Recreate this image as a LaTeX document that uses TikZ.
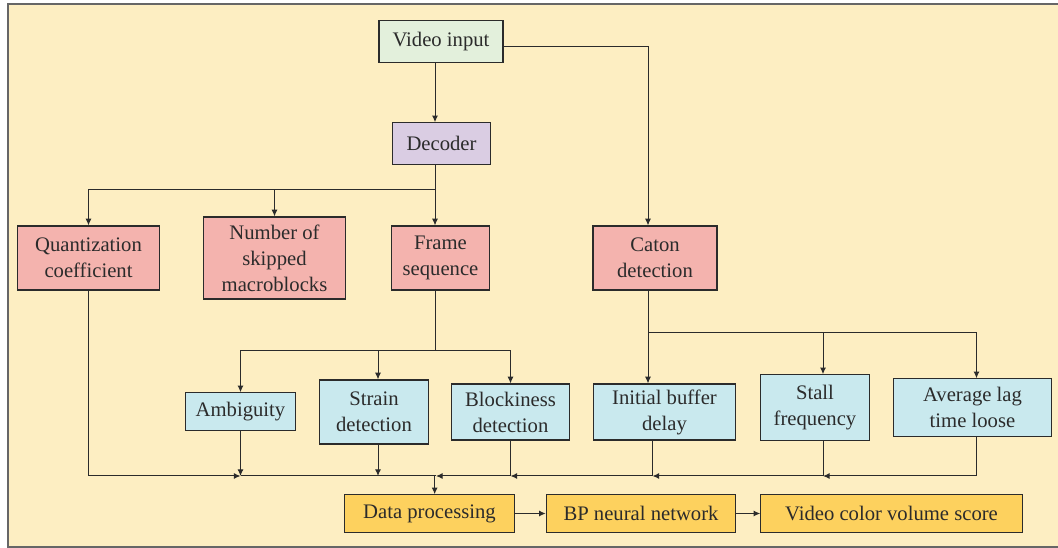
\documentclass[tikz,border=0pt]{standalone}
\usepackage{fontspec}
\setmainfont{Liberation Serif}
\usetikzlibrary{arrows.meta}

\definecolor{bgcream}{HTML}{FDEEC2}
\definecolor{ingreen}{HTML}{E3F0DC}
\definecolor{decpurple}{HTML}{DACDE3}
\definecolor{featpink}{HTML}{F4B3AE}
\definecolor{metblue}{HTML}{C9E9EE}
\definecolor{outorange}{HTML}{FDD15E}
\definecolor{edge}{HTML}{2B2B2B}

\tikzset{
  box/.style={draw=edge, line width=0.9pt, rectangle, inner sep=0pt, align=center,
    font=\fontsize{15.5}{19.5}\selectfont, text=edge},
  arr/.style={draw=edge, line width=0.75pt, -{Latex[length=5pt,width=4.5pt]}},
  ln/.style={draw=edge, line width=0.75pt},
}

\begin{document}
\begin{tikzpicture}[x=0.75pt, y=-0.75pt]
  \useasboundingbox (0,0) rectangle (1058,548);
  \fill[bgcream] (8,4) rectangle (1064,547);
  \draw[black!60, line width=1pt] (1064,4) -- (8,4) -- (8,547) -- (1064,547);

  % nodes, pixel positions
  \node[box, fill=ingreen, minimum width=93pt, minimum height=31pt] (vin) at (441,41.5) {Video input};
  \node[box, fill=decpurple, minimum width=74pt, minimum height=31pt] (dec) at (441.5,143.5) {Decoder};

  \node[box, fill=featpink, minimum width=107pt, minimum height=48pt] (quant) at (88.5,258) {Quantization\\coefficient};
  \node[box, fill=featpink, minimum width=107pt, minimum height=61.5pt] (skip) at (274.5,258) {Number of\\skipped\\macroblocks};
  \node[box, fill=featpink, minimum width=74pt, minimum height=48pt] (frame) at (440.5,258) {Frame\\sequence};
  \node[box, fill=featpink, minimum width=93pt, minimum height=48pt] (caton) at (655,258) {Caton\\detection};

  \node[box, fill=metblue, minimum width=82pt, minimum height=28pt] (amb) at (240.5,411.5) {Ambiguity};
  \node[box, fill=metblue, minimum width=82pt, minimum height=48pt] (strain) at (374,412) {Strain\\detection};
  \node[box, fill=metblue, minimum width=88pt, minimum height=42pt] (block) at (510.5,412) {Blockiness\\detection};
  \node[box, fill=metblue, minimum width=107pt, minimum height=42pt] (init) at (664.5,412) {Initial buffer\\delay};
  \node[box, fill=metblue, minimum width=82pt, minimum height=49pt] (stall) at (815,407.5) {Stall\\frequency};
  \node[box, fill=metblue, minimum width=118pt, minimum height=43pt] (avg) at (972.5,407.5) {Average lag\\time loose};

  \node[box, fill=outorange, minimum width=127pt, minimum height=28pt] (data) at (429.5,513.5) {Data processing};
  \node[box, fill=outorange, minimum width=142pt, minimum height=28pt] (bp) at (641,513.5) {BP neural network};
  \node[box, fill=outorange, minimum width=196pt, minimum height=28pt] (score) at (891.5,513.5) {Video color volume score};

  % junctions
  \coordinate (dsplit) at (435,190);
  \coordinate (fsplit) at (435,351);
  \coordinate (csplit) at (648,333);
  \coordinate (mrg) at (436,476);

  % top part
  \draw[arr] (vin.south -| dsplit) -- (dec.north -| dsplit);
  \draw[arr] ([yshift=-4pt]vin.east) -| (caton.north -| csplit);
  \draw[ln] (dec.south -| dsplit) -- (dsplit);
  \draw[arr] (dsplit) -| (quant);
  \draw[arr] (skip.north |- dsplit) -- (skip);
  \draw[arr] (dsplit) -- (frame.north -| dsplit);

  % frame sequence branch
  \draw[ln] (frame.south -| fsplit) -- (fsplit);
  \draw[arr] (fsplit) -| (amb);
  \draw[arr] ([xshift=3pt]strain.north |- fsplit) -- ([xshift=3pt]strain.north);
  \draw[arr] (fsplit) -| (block);

  % caton branch
  \draw[ln] (caton.south -| csplit) -- (csplit);
  \draw[arr] (csplit) -- (init.north -| csplit);
  \draw[arr] ([xshift=6pt]stall.north |- csplit) -- ([xshift=6pt]stall.north);
  \draw[arr] (csplit) -| ([xshift=3pt]avg.north);

  % merging into data processing
  \draw[arr] (quant) |- (amb |- mrg);
  \draw[arr] (amb) -- (amb |- mrg);
  \draw[arr] ([xshift=3pt]strain.south) -- ([xshift=3pt]strain.south |- mrg);
  \draw[ln] (amb |- mrg) -- (mrg);
  \draw[arr] ([xshift=3pt]avg.south) |- ([xshift=6pt]stall.south |- mrg);
  \draw[arr] ([xshift=6pt]stall.south) |- ([xshift=-9pt]init.south |- mrg);
  \draw[arr] ([xshift=-9pt]init.south) |- (block.south |- mrg);
  \draw[arr] (block.south) |- (mrg);
  \draw[arr] ([xshift=-1pt]mrg) -- ([xshift=-1pt]data.north -| mrg);

  % output chain
  \draw[arr] (data) -- (bp);
  \draw[arr] (bp) -- (score);
\end{tikzpicture}
\end{document}
